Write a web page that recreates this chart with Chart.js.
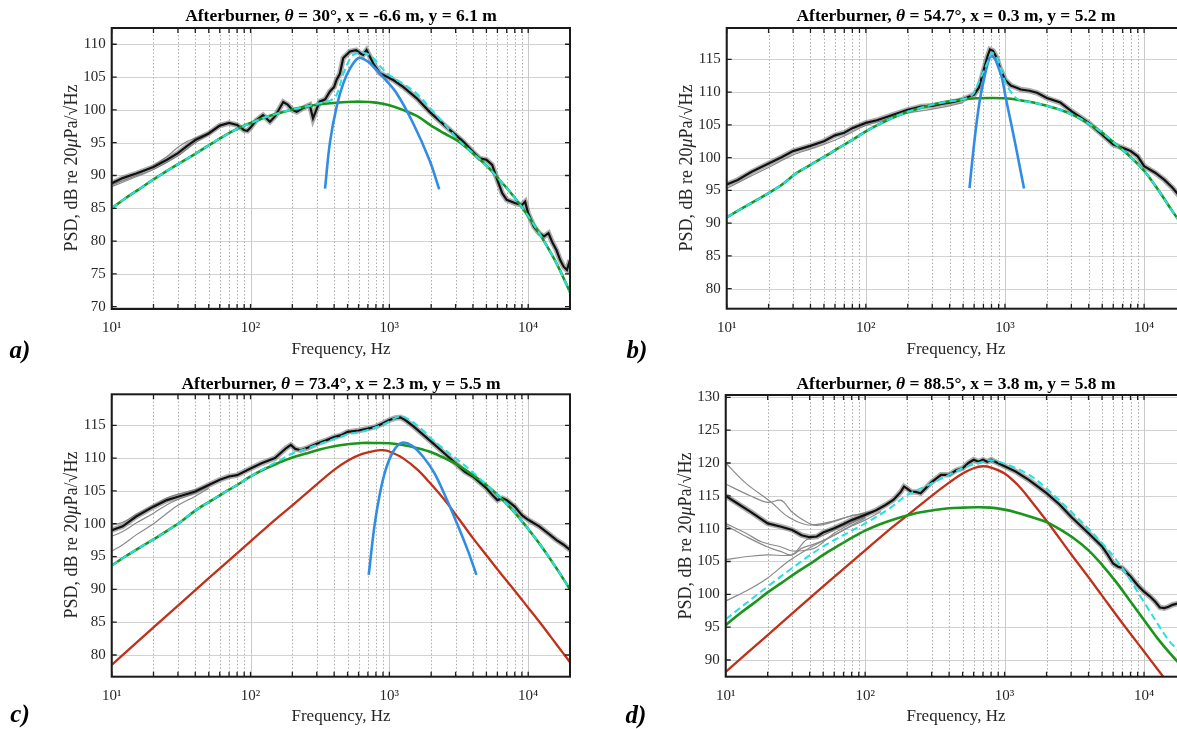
<!DOCTYPE html>
<html>
<head>
<meta charset="utf-8">
<script src="https://cdn.jsdelivr.net/npm/chart.js@4/dist/chart.umd.min.js"></script>
<style>
  html, body { margin: 0; padding: 0; background: #fff; }
  #wrap { position: relative; width: 1177px; height: 729px; overflow: hidden; background: #fff; font-family: 'Liberation Serif', 'Times New Roman', serif; color: #262626; }
  canvas { position: absolute; }
  .ttl { position: absolute; transform: translate(-50%, -50%); white-space: nowrap; font-weight: bold; font-size: 17.5px; color: #000; }
  .xl { position: absolute; transform: translate(-50%, -50%); white-space: nowrap; font-size: 17px; }
  .yl { position: absolute; transform: translate(-50%, -50%) rotate(-90deg); white-space: nowrap; font-size: 18px; }
  .pl { position: absolute; transform: translate(-50%, -50%); font-weight: bold; font-style: italic; font-size: 25px; color: #000; }
</style>
</head>
<body>
<div id="wrap">
  <canvas id="ca" width="590" height="365" style="left:0;top:0"></canvas>
  <canvas id="cb" width="600" height="365" style="left:600px;top:0"></canvas>
  <canvas id="cc" width="590" height="364" style="left:0;top:365px"></canvas>
  <canvas id="cd" width="600" height="364" style="left:600px;top:365px"></canvas>

  <div class="ttl" style="left:341px;top:15px">Afterburner, <i>θ</i> = 30°, x = -6.6 m, y = 6.1 m</div>
  <div class="ttl" style="left:956px;top:15px">Afterburner, <i>θ</i> = 54.7°, x = 0.3 m, y = 5.2 m</div>
  <div class="ttl" style="left:341px;top:383px">Afterburner, <i>θ</i> = 73.4°, x = 2.3 m, y = 5.5 m</div>
  <div class="ttl" style="left:956px;top:383px">Afterburner, <i>θ</i> = 88.5°, x = 3.8 m, y = 5.8 m</div>

  <div class="yl" style="left:71px;top:168px">PSD, dB re 20<i>μ</i>Pa/√Hz</div>
  <div class="yl" style="left:686px;top:168px">PSD, dB re 20<i>μ</i>Pa/√Hz</div>
  <div class="yl" style="left:71px;top:535px">PSD, dB re 20<i>μ</i>Pa/√Hz</div>
  <div class="yl" style="left:685px;top:536px">PSD, dB re 20<i>μ</i>Pa/√Hz</div>

  <div class="xl" style="left:341px;top:349px">Frequency, Hz</div>
  <div class="xl" style="left:956px;top:349px">Frequency, Hz</div>
  <div class="xl" style="left:341px;top:716px">Frequency, Hz</div>
  <div class="xl" style="left:956px;top:716px">Frequency, Hz</div>

  <div class="pl" style="left:20px;top:350px">a)</div>
  <div class="pl" style="left:637px;top:350px">b)</div>
  <div class="pl" style="left:20px;top:714px">c)</div>
  <div class="pl" style="left:636px;top:715px">d)</div>
</div>
<script>
// ---------- tick definitions ----------
const xTickValues = [10,20,30,40,50,60,70,80,90,100,200,300,400,500,600,700,800,900,1000,2000,3000,4000,5000,6000,7000,8000,9000,10000,20000];
const xTickLabels = {10: '10¹', 100: '10²', 1000: '10³', 10000: '10⁴'};
const aYTicks = [70,75,80,85,90,95,100,105,110];
const bYTicks = [80,85,90,95,100,105,110,115];
const cYTicks = [80,85,90,95,100,105,110,115];
const dYTicks = [90,95,100,105,110,115,120,125,130];

// ---------- panel a: theta = 30 deg ----------
const aMeasured = [[10,88.8],[12,89.6],[15,90.3],[20,91.3],[25,92.4],[30,93.4],[35,94.5],[40,95.4],[50,96.4],[60,97.6],[70,98.0],[80,97.7],[90,96.9],[95,96.8],[100,97.3],[110,98.4],[123,99.2],[138,98.2],[150,99.0],[172,101.2],[185,100.8],[200,100.0],[215,99.7],[240,100.3],[267,100.75],[282,98.7],[300,100.2],[315,101.25],[345,101.6],[373,102.8],[400,103.5],[417,104.6],[440,105.5],[465,107.9],[520,108.9],[576,109.1],[620,108.6],[647,108.4],[685,109.1],[720,108.2],[764,107.1],[853,105.6],[953,105.1],[1066,104.55],[1257,103.5],[1570,101.8],[1950,99.7],[2570,97.4],[3390,95.2],[4000,93.6],[4476,92.6],[5000,92.4],[5500,91.6],[6000,89.3],[6500,87.3],[7000,86.3],[8000,85.8],[9000,85.5],[9500,86.0],[10000,84.2],[11000,82.2],[12000,81.2],[13000,80.7],[14000,81.2],[15000,79.7],[16000,78.6],[17000,77.1],[18000,76.1],[19000,75.6],[20000,77.1]];
const aRun1 = [[10,88.3],[15,89.8],[20,90.9],[30,93.0],[40,95.0],[50,96.3],[60,97.5]];
const aRun2 = [[10,88.6],[15,90.0],[20,91.5],[25,92.9],[30,94.3],[35,95.2],[40,95.7],[50,96.6],[60,97.7]];
const aFSS = [[10,85.0],[12.5,86.5],[16,88.0],[20,89.4],[25,90.7],[31.5,92.0],[40,93.3],[50,94.6],[63,95.9],[80,97.1],[100,98.0],[125,98.8],[160,99.5],[200,100.05],[250,100.5],[315,100.85],[400,101.05],[500,101.2],[630,101.25],[800,101.1],[1000,100.7],[1250,100.0],[1600,99.0],[2000,97.6],[2500,96.4],[3150,95.2],[4000,93.4],[5000,91.5],[6300,89.2],[8000,86.6],[10000,83.8],[12500,80.6],[16000,76.6],[20000,72.2]];
const aLSS = [[344,88.0],[373,95.0],[417,100.5],[465,104.0],[520,106.3],[596,107.9],[660,107.7],[725,107.1],[890,105.1],[1130,102.5],[1480,98.0],[1950,92.3],[2285,87.9]];
const aTotal = [[10,85.0],[12.5,86.5],[16,88.0],[20,89.4],[25,90.7],[31.5,92.0],[40,93.3],[50,94.6],[63,95.9],[80,97.1],[100,98.0],[125,98.8],[160,99.5],[200,100.05],[250,100.5],[315,101.0],[380,101.5],[417,102.3],[465,105.4],[520,107.8],[560,108.5],[614,108.7],[680,108.6],[725,108.3],[790,107.6],[853,106.7],[1000,105.3],[1250,104.0],[1570,102.5],[2000,100.1],[2500,97.8],[3150,95.4],[4000,93.4],[5000,91.5],[6300,89.2],[8000,86.6],[10000,83.8],[12500,80.6],[16000,76.6],[20000,72.2]];

// ---------- panel b: theta = 54.7 deg ----------
const bMeasured = [[10,95.9],[12,96.6],[15,97.8],[20,99.1],[25,100.1],[30,101.0],[40,101.8],[50,102.5],[60,103.4],[70,103.8],[80,104.5],[100,105.3],[120,105.7],[150,106.4],[200,107.3],[250,107.8],[300,107.9],[350,108.2],[400,108.4],[450,108.6],[500,108.9],[550,109.3],[600,109.6],[650,110.7],[700,113.2],[750,115.5],[780,116.5],[820,116.3],[870,115.3],[920,113.7],[1000,111.9],[1100,111.0],[1200,110.7],[1300,110.4],[1500,110.2],[1700,109.9],[2000,109.1],[2500,108.4],[3000,107.1],[4000,105.3],[5000,103.5],[6000,102.0],[7000,101.5],[8000,101.0],[9000,100.2],[10000,98.7],[12000,97.7],[14000,96.6],[16000,95.4],[18000,94.1],[20000,93.1]];
const bRun1 = [[10,95.3],[15,97.2],[20,98.5],[30,100.4],[40,101.3],[50,102.0],[70,103.3],[100,104.9],[150,106.0],[200,106.8],[300,107.4],[400,107.9],[500,108.4]];
const bFSS = [[10,90.9],[12.5,92.1],[16,93.4],[20,94.6],[25,95.9],[31.5,97.6],[40,98.9],[50,100.1],[63,101.4],[80,102.7],[100,104.0],[125,105.1],[160,106.2],[200,107.0],[250,107.6],[315,108.2],[400,108.6],[500,108.9],[630,109.05],[800,109.1],[1000,109.05],[1250,108.8],[1600,108.4],[2000,107.9],[2500,107.3],[3150,106.4],[4000,105.2],[5000,103.8],[6300,102.0],[8000,100.1],[10000,98.0],[12500,95.2],[16000,91.8],[20000,88.9]];
const bLSS = [[556,95.35],[583,99.7],[621,104.8],[661,108.9],[705,111.9],[748,114.2],[787,115.5],[820,115.4],[862,114.8],[945,112.4],[1018,108.9],[1118,104.8],[1227,100.5],[1371,95.3]];
const bTotal = [[10,90.9],[12.5,92.1],[16,93.4],[20,94.6],[25,95.9],[31.5,97.6],[40,98.9],[50,100.1],[63,101.4],[80,102.7],[100,104.0],[125,105.1],[160,106.2],[200,107.0],[250,107.6],[315,108.2],[400,108.6],[500,108.9],[583,109.6],[625,110.8],[661,111.9],[705,113.3],[748,114.5],[790,115.8],[811,116.0],[862,115.5],[905,114.4],[945,113.2],[990,111.9],[1040,110.9],[1140,109.6],[1250,108.85],[1600,108.4],[2000,107.9],[2500,107.3],[3150,106.4],[4000,105.2],[5000,103.8],[6300,102.0],[8000,100.1],[10000,98.0],[12500,95.2],[16000,91.8],[20000,88.9]];

// ---------- panel c: theta = 73.4 deg ----------
const cMeasured = [[10,99.0],[12,99.6],[15,101.1],[20,102.6],[25,103.6],[30,104.1],[40,104.9],[50,105.9],[60,106.7],[70,107.2],[80,107.4],[100,108.4],[120,109.2],[150,110.0],[180,111.5],[195,112.0],[210,111.4],[230,111.2],[260,111.6],[300,112.2],[350,112.7],[400,113.2],[450,113.5],[500,114.0],[600,114.2],[700,114.5],[800,114.8],[900,115.3],[1000,115.8],[1100,116.1],[1200,116.2],[1300,115.8],[1500,114.8],[1700,113.8],[2000,112.5],[2500,110.7],[3000,109.2],[3500,107.9],[4000,107.2],[5000,105.4],[5500,104.4],[6000,103.6],[6500,103.9],[7000,103.6],[8000,102.6],[9000,101.3],[10000,100.6],[12000,99.6],[14000,98.5],[16000,97.5],[18000,96.8],[20000,96.0]];
const cRun1 = [[10,99.8],[12,100.2],[15,101.4],[20,102.8],[25,103.9],[30,104.5],[40,105.2],[50,106.0]];
const cRun2 = [[10,98.1],[12,98.8],[15,100.1],[20,101.6],[25,102.9],[30,103.7],[40,104.7],[50,105.7]];
const cRun3 = [[10,95.8],[12,96.8],[15,98.3],[20,100.0],[25,101.6],[30,102.8],[40,104.2],[50,105.4]];
const cFSS = [[10,93.6],[12.5,95.0],[16,96.4],[20,97.6],[25,98.9],[31.5,100.3],[40,102.0],[50,103.3],[63,104.6],[80,105.9],[100,107.2],[125,108.3],[160,109.3],[200,110.1],[250,110.7],[315,111.3],[400,111.8],[500,112.1],[630,112.3],[800,112.3],[1000,112.25],[1250,112.0],[1600,111.5],[2000,110.9],[2500,110.0],[3150,108.9],[4000,107.4],[5000,105.9],[6300,104.0],[8000,101.7],[10000,99.2],[12500,96.5],[16000,93.2],[20000,90.0]];
const cLSS = [[710,92.2],[780,99.6],[855,104.6],[940,108.2],[1065,111.0],[1220,112.3],[1450,111.9],[1750,110.2],[2110,107.7],[2540,104.1],[3060,100.1],[3700,95.75],[4236,92.2]];
const cLSS2 = [[10,78.5],[20,84.2],[50,91.7],[100,97.3],[150,100.6],[200,102.8],[300,106.0],[400,108.2],[500,109.6],[630,110.6],[800,111.15],[900,111.2],[1000,111.0],[1250,110.0],[1600,108.2],[2000,106.0],[2500,103.6],[3150,100.8],[4000,97.8],[5000,95.2],[6300,92.5],[8000,89.8],[10000,87.2],[12500,84.6],[16000,81.6],[20000,78.9]];
const cTotal = [[10,93.6],[12.5,95.0],[16,96.4],[20,97.6],[25,98.9],[31.5,100.3],[40,102.0],[50,103.3],[63,104.6],[80,105.9],[100,107.2],[125,108.4],[160,109.6],[200,110.7],[250,111.4],[300,112.0],[400,112.9],[500,113.6],[600,113.9],[700,114.3],[800,114.7],[900,115.1],[1000,115.6],[1100,116.1],[1220,116.4],[1350,116.0],[1500,115.4],[1750,114.2],[2000,113.0],[2500,111.3],[3000,110.0],[4000,107.8],[5000,105.9],[6300,104.0],[8000,101.7],[10000,99.2],[12500,96.5],[16000,93.2],[20000,90.0]];

// ---------- panel d: theta = 88.5 deg ----------
const dMeasured = [[10,115.0],[12,113.9],[15,112.6],[20,110.8],[25,110.3],[30,109.8],[35,109.0],[40,108.7],[45,108.8],[50,109.4],[60,110.05],[70,110.7],[80,111.3],[100,112.1],[120,112.8],[140,113.6],[160,114.4],[180,115.6],[190,116.4],[200,116.1],[215,115.6],[230,115.6],[250,115.4],[270,116.1],[300,117.1],[350,118.2],[400,118.2],[450,118.9],[500,119.2],[550,120.0],[600,120.5],[650,120.2],[700,120.5],[750,120.2],[800,120.5],[900,119.95],[1000,119.5],[1200,118.7],[1500,117.4],[2000,115.4],[2500,113.6],[3000,111.8],[4000,109.3],[5000,107.3],[5500,106.0],[6000,104.7],[6500,104.2],[7000,104.0],[8000,102.7],[9000,101.4],[10000,100.4],[11000,99.7],[12000,98.9],[13000,98.0],[14000,97.9],[15000,98.1],[16000,98.4],[17400,98.6],[20000,98.6]];
const dRun1 = [[10,120.0],[14,116.9],[21,114.1],[28,111.8],[38,110.6],[50,110.8],[70,111.6],[90,112.2],[110,112.6]];
const dRun2 = [[10,116.8],[15,115.0],[20,114.0],[25,114.3],[30,112.5],[38,111.0],[45,110.5],[60,111.1],[80,112.0],[100,112.3]];
const dRun3 = [[10,110.8],[14,109.3],[18,108.0],[25,107.2],[30,106.6],[40,106.8],[45,107.2],[60,109.3],[80,110.8],[100,111.8]];
const dRun4 = [[10,110.5],[14,108.8],[20,107.2],[25,106.5],[30,106.0],[38,108.3],[50,109.0],[70,110.5],[100,111.8]];
const dRun5 = [[10,105.3],[15,105.8],[20,106.0],[30,106.0],[35,107.0],[45,107.8],[60,109.0],[80,110.5],[100,111.6]];
const dRun6 = [[10,99.0],[14,100.5],[20,102.5],[28,105.0],[38,106.8],[55,108.6],[80,110.4],[100,111.3],[130,112.6]];
const dFSS = [[10,95.3],[12.5,97.0],[16,98.7],[20,100.3],[25,101.7],[31.5,103.2],[40,104.6],[50,106.0],[63,107.3],[80,108.6],[100,109.7],[125,110.6],[160,111.4],[200,112.0],[250,112.5],[315,112.85],[400,113.1],[500,113.2],[630,113.25],[800,113.2],[1000,112.9],[1250,112.4],[1600,111.7],[2000,111.0],[2500,109.9],[3150,108.5],[4000,106.7],[5000,104.5],[6300,101.9],[8000,98.9],[10000,96.1],[12500,93.3],[16000,90.6],[20000,88.4]];
const dLSS2 = [[10,88.2],[20,93.8],[50,101.2],[100,106.7],[150,109.9],[200,112.0],[300,115.0],[400,117.0],[500,118.4],[600,119.2],[700,119.5],[800,119.3],[1000,118.4],[1250,116.6],[1500,114.6],[2000,111.2],[2500,108.4],[3000,106.1],[4000,102.6],[5000,99.8],[7000,95.6],[10000,91.3],[12500,88.6],[15000,86.4],[20000,83.0]];
const dTotal = [[10,96.2],[20,101.2],[30,104.0],[50,107.3],[100,110.8],[150,113.1],[200,115.1],[300,116.9],[400,118.2],[500,119.2],[700,120.2],[800,120.4],[1000,119.9],[1500,118.2],[2000,116.1],[3000,112.6],[5000,107.8],[7000,104.0],[10000,98.8],[15000,93.0],[17400,91.5],[20000,89.5]];

// ---------- styling ----------
const COL = { measured: '#111111', halo: 'rgba(120,120,120,0.6)', run: '#8a8a8a', fss: '#1b951b', lss: '#2f8de4', lss2: '#c0311a', total: '#22e2e2' };
const FONT = "'Liberation Serif', 'Times New Roman', serif";

const pts = arr => arr.map(([x, y]) => ({x, y}));
function line(arr, color, width, extra) {
  return Object.assign({ data: pts(arr), borderColor: color, borderWidth: width, pointRadius: 0, fill: false, tension: 0 }, extra || {});
}

const framePlugin = {
  id: 'frame',
  beforeDatasetsDraw(chart) {
    const ctx = chart.ctx, a = chart.chartArea, xs = chart.scales.x, ys = chart.scales.y;
    ctx.save();
    ctx.lineWidth = 1;
    ys.ticks.forEach(t => {
      const p = Math.round(ys.getPixelForValue(t.value)) + 0.5;
      ctx.strokeStyle = '#d2d2d2'; ctx.setLineDash([]);
      ctx.beginPath(); ctx.moveTo(a.left, p); ctx.lineTo(a.right, p); ctx.stroke();
    });
    xs.ticks.forEach(t => {
      const p = Math.round(xs.getPixelForValue(t.value)) + 0.5;
      const major = xTickLabels[t.value] !== undefined;
      ctx.strokeStyle = major ? '#cacaca' : '#adadad';
      ctx.setLineDash(major ? [] : [1.5, 2]);
      ctx.beginPath(); ctx.moveTo(p, a.top); ctx.lineTo(p, a.bottom); ctx.stroke();
    });
    ctx.restore();
  },
  afterDatasetsDraw(chart) {
    const ctx = chart.ctx, a = chart.chartArea, xs = chart.scales.x, ys = chart.scales.y;
    ctx.save();
    ctx.strokeStyle = '#1e1e1e'; ctx.lineWidth = 1.3; ctx.setLineDash([]);
    const L = 5;
    ys.ticks.forEach(t => {
      const p = ys.getPixelForValue(t.value);
      ctx.beginPath(); ctx.moveTo(a.left, p); ctx.lineTo(a.left + L, p);
      ctx.moveTo(a.right, p); ctx.lineTo(a.right - L, p); ctx.stroke();
    });
    xs.ticks.forEach(t => {
      const p = xs.getPixelForValue(t.value);
      ctx.beginPath(); ctx.moveTo(p, a.bottom); ctx.lineTo(p, a.bottom - L);
      ctx.moveTo(p, a.top); ctx.lineTo(p, a.top + L); ctx.stroke();
    });
    ctx.lineWidth = 2; ctx.strokeStyle = '#1a1a1a';
    ctx.strokeRect(a.left, a.top, a.right - a.left, a.bottom - a.top);
    ctx.restore();
  }
};

function makePanel(id, p) {
  const ticksFont = { family: FONT, size: 15 };
  return new Chart(document.getElementById(id), {
    type: 'line',
    data: { datasets: p.datasets },
    options: {
      responsive: false, animation: false, devicePixelRatio: 1,
      layout: { padding: { left: 0, top: p.top, right: p.right, bottom: 0 } },
      plugins: { legend: { display: false }, tooltip: { enabled: false }, title: { display: false } },
      scales: {
        x: {
          type: 'logarithmic', min: 10, max: 20000,
          afterBuildTicks: s => { s.ticks = xTickValues.map(v => ({ value: v })); },
          afterFit: s => { s.height = p.xh; },
          grid: { display: false, drawTicks: false, tickLength: 0 }, border: { display: false },
          ticks: { autoSkip: false, maxRotation: 0, minRotation: 0, padding: 10, font: ticksFont, color: '#262626',
                   callback: v => (xTickLabels[v] !== undefined ? xTickLabels[v] : '') }
        },
        y: {
          type: 'linear', min: p.ymin, max: p.ymax,
          afterBuildTicks: s => { s.ticks = p.yTicks.map(v => ({ value: v })); },
          afterFit: s => { s.width = p.yw; },
          grid: { display: false, drawTicks: false, tickLength: 0 }, border: { display: false },
          ticks: { padding: 6, font: ticksFont, color: '#262626', callback: v => String(v) }
        }
      }
    },
    plugins: [framePlugin]
  });
}

const smooth = { tension: 0.35 };
const dash = { borderDash: [7, 4], tension: 0.35 };

makePanel('ca', { top: 28, right: 20, xh: 56, yw: 111.7, ymin: 69.65, ymax: 112.48, yTicks: aYTicks, datasets: [
  line(aTotal, COL.total, 2, dash),
  line(aLSS, COL.lss, 2.6, smooth),
  line(aFSS, COL.fss, 2.6, smooth),
  line(aMeasured, COL.measured, 2.2),
  line(aMeasured, COL.halo, 5.5),
  line(aRun1, COL.run, 1.2, smooth),
  line(aRun2, COL.run, 1.2, smooth)
]});

makePanel('cb', { top: 28, right: 14, xh: 56.3, yw: 126.7, ymin: 76.95, ymax: 119.78, yTicks: bYTicks, datasets: [
  line(bTotal, COL.total, 2, dash),
  line(bLSS, COL.lss, 2.6, smooth),
  line(bFSS, COL.fss, 2.6, smooth),
  line(bMeasured, COL.measured, 2.2),
  line(bMeasured, COL.halo, 5.5),
  line(bRun1, COL.run, 1.2, smooth)
]});

makePanel('cc', { top: 29.3, right: 20, xh: 52.3, yw: 111.7, ymin: 76.69, ymax: 119.72, yTicks: cYTicks, datasets: [
  line(cTotal, COL.total, 2, dash),
  line(cLSS, COL.lss, 2.6, smooth),
  line(cFSS, COL.fss, 2.6, smooth),
  line(cLSS2, COL.lss2, 2.3, smooth),
  line(cMeasured, COL.measured, 2.2),
  line(cMeasured, COL.halo, 5.5),
  line(cRun1, COL.run, 1.2, smooth),
  line(cRun2, COL.run, 1.2, smooth),
  line(cRun3, COL.run, 1.2, smooth)
]});

makePanel('cd', { top: 30, right: 14, xh: 52.3, yw: 125.7, ymin: 87.46, ymax: 130.35, yTicks: dYTicks, datasets: [
  line(dTotal, COL.total, 2, dash),
  line(dFSS, COL.fss, 2.6, smooth),
  line(dLSS2, COL.lss2, 2.3, smooth),
  line(dMeasured, COL.measured, 2.2),
  line(dMeasured, COL.halo, 5.5),
  line(dRun1, COL.run, 1.2, smooth),
  line(dRun2, COL.run, 1.2, smooth),
  line(dRun3, COL.run, 1.2, smooth),
  line(dRun4, COL.run, 1.2, smooth),
  line(dRun5, COL.run, 1.2, smooth),
  line(dRun6, COL.run, 1.2, smooth)
]});
</script>
</body>
</html>
